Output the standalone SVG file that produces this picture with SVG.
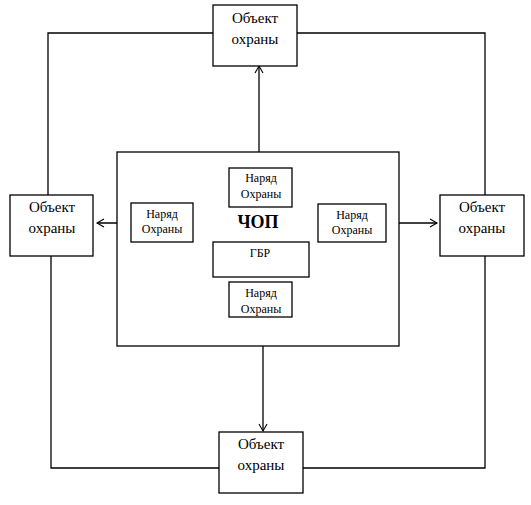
<svg xmlns="http://www.w3.org/2000/svg" width="531" height="505" viewBox="0 0 531 505">
<defs>
<marker id="arr" markerWidth="10" markerHeight="10" refX="8" refY="5" orient="auto" markerUnits="userSpaceOnUse">
<path d="M1,1 L8,5 L1,9" fill="none" stroke="#000" stroke-width="1.1"/>
</marker>
</defs>
<style>
rect{fill:#fff;stroke:#000;stroke-width:1.3}
line,polyline{stroke:#000;stroke-width:1.3;fill:none}
text{font-family:"Liberation Serif","Times New Roman",serif;fill:#000;text-anchor:middle}
.obj{font-size:15px}
.nar{font-size:12px}
.chop{font-size:18px;font-weight:bold}
</style>
<g id="connectors">
<polyline points="213,33 48,33 48,195"/>
<polyline points="297,33 485,33 485,195"/>
<polyline points="51,256 51,468 219,468"/>
<polyline points="303,468 485,468 485,256"/>
<line x1="259" y1="168" x2="259" y2="66" marker-end="url(#arr)"/>
<line x1="131" y1="223" x2="97" y2="223" marker-end="url(#arr)"/>
<line x1="386" y1="223" x2="437" y2="223" marker-end="url(#arr)"/>
<line x1="263" y1="317" x2="263" y2="431" marker-end="url(#arr)"/>
</g>
<g id="chop">
<rect x="117" y="152" width="282" height="194"/>
<text class="chop" x="258" y="228">ЧОП</text>
</g>
<g id="obj-top">
<rect x="213" y="5" width="84" height="61"/>
<text class="obj" x="255" y="23">Объект</text>
<text class="obj" x="255" y="44">охраны</text>
</g>
<g id="obj-left">
<rect x="10" y="195" width="83" height="61"/>
<text class="obj" x="52" y="212">Объект</text>
<text class="obj" x="52" y="233">охраны</text>
</g>
<g id="obj-right">
<rect x="440" y="195" width="84" height="61"/>
<text class="obj" x="482" y="212">Объект</text>
<text class="obj" x="482" y="233">охраны</text>
</g>
<g id="obj-bottom">
<rect x="219" y="432" width="84" height="61"/>
<text class="obj" x="261" y="449">Объект</text>
<text class="obj" x="261" y="470">охраны</text>
</g>
<g id="nar-top">
<rect x="229" y="168" width="63" height="39"/>
<text class="nar" x="261" y="182">Наряд</text>
<text class="nar" x="261" y="198">Охраны</text>
</g>
<g id="nar-left">
<rect x="131" y="203" width="62" height="39"/>
<text class="nar" x="162" y="218">Наряд</text>
<text class="nar" x="162" y="233">Охраны</text>
</g>
<g id="nar-right">
<rect x="318" y="204" width="68" height="38"/>
<text class="nar" x="352" y="219">Наряд</text>
<text class="nar" x="352" y="234">Охраны</text>
</g>
<g id="gbr">
<rect x="213" y="242" width="96" height="35"/>
<text class="nar" x="260" y="257">ГБР</text>
</g>
<g id="nar-bottom">
<rect x="229" y="282" width="63" height="35"/>
<text class="nar" x="261" y="297">Наряд</text>
<text class="nar" x="261" y="313">Охраны</text>
</g>
</svg>
